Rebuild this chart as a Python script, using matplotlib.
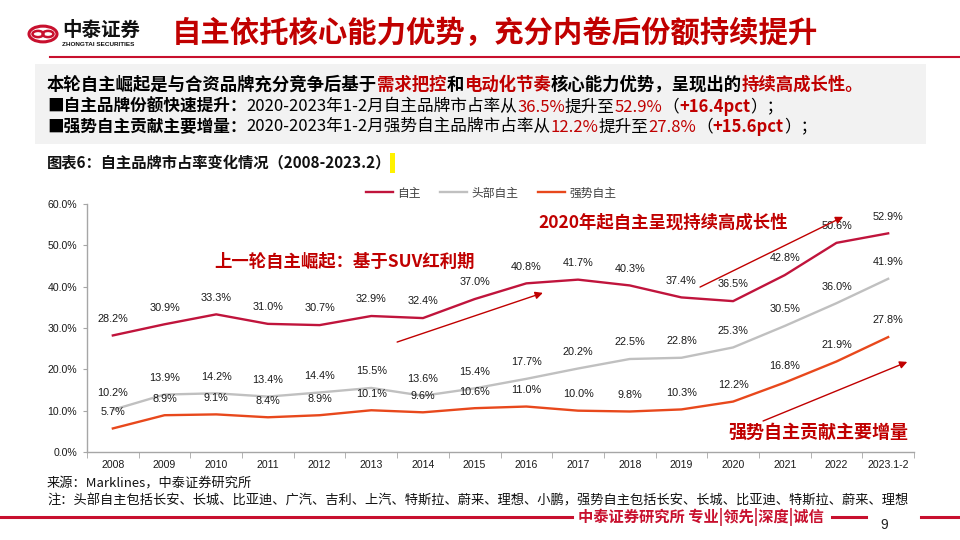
import matplotlib
matplotlib.use("Agg")
import matplotlib.pyplot as plt
from matplotlib.patches import Rectangle, Circle
from matplotlib.lines import Line2D

plt.rcParams['font.family'] = ['Noto Sans CJK SC', 'DejaVu Sans']

# ---------------- data ----------------
years = ['2008', '2009', '2010', '2011', '2012', '2013', '2014', '2015', '2016',
         '2017', '2018', '2019', '2020', '2021', '2022', '2023.1-2']
zizhu = [28.2, 30.9, 33.3, 31.0, 30.7, 32.9, 32.4, 37.0, 40.8, 41.7, 40.3, 37.4, 36.5, 42.8, 50.6, 52.9]
toubu = [10.2, 13.9, 14.2, 13.4, 14.4, 15.5, 13.6, 15.4, 17.7, 20.2, 22.5, 22.8, 25.3, 30.5, 36.0, 41.9]
qiangshi = [5.7, 8.9, 9.1, 8.4, 8.9, 10.1, 9.6, 10.6, 11.0, 10.0, 9.8, 10.3, 12.2, 16.8, 21.9, 27.8]
series_names = ['自主', '头部自主', '强势自主']
yticks = [0, 10, 20, 30, 40, 50, 60]

C_ZZ = '#C0143C'
C_TB = '#C0C0C0'
C_QS = '#E8481C'
RED = '#C00000'
CN = ['Noto Sans CJK SC', 'DejaVu Sans']
LAT = ['Liberation Sans', 'DejaVu Sans']

W, H = 960, 540
fig = plt.figure(figsize=(9.6, 5.4), dpi=100)
fig.patch.set_facecolor('white')

def px(x, y):
    return x / W, 1 - y / H

# ---------------- header ----------------
fig.patches.append(Circle(px(43, 34), 14 / W, transform=fig.transFigure,
                          facecolor='white', edgecolor='#C8102E', lw=2.2))
fig.patches.append(Circle(px(38, 34), 5.5 / W, transform=fig.transFigure,
                          facecolor='none', edgecolor='#C8102E', lw=1.8))
fig.patches.append(Circle(px(48, 34), 5.5 / W, transform=fig.transFigure,
                          facecolor='none', edgecolor='#C8102E', lw=1.8))
fig.text(*px(62, 30), '中泰证券', fontsize=14, fontweight='bold', family=CN,
         color='#111111', va='center', ha='left')
fig.text(*px(62, 44), 'ZHONGTAI SECURITIES', fontsize=4.6, fontweight='bold', family=LAT,
         color='#111111', va='center', ha='left')
fig.text(*px(172, 33), '自主依托核心能力优势，充分内卷后份额持续提升', fontsize=21.2,
         fontweight='bold', family=CN, color=RED, va='center', ha='left')
fig.add_artist(Line2D([50 / W, 1.0], [1 - 57 / H] * 2, transform=fig.transFigure,
                      color='#C8102E', lw=1.5))

# ---------------- grey text box ----------------
fig.patches.append(Rectangle(px(35, 144), (926 - 35) / W, (144 - 64) / H,
                             transform=fig.transFigure, facecolor='#F2F2F2',
                             edgecolor='none', zorder=0))

fig.canvas.draw()
renderer = fig.canvas.get_renderer()

def seg_line(x0, y0, segs, size=12):
    x = x0
    for txt, color, weight in segs:
        t = fig.text(*px(x, y0), txt, fontsize=size, fontweight=weight, family=CN,
                     color=color, va='center', ha='left')
        bb = t.get_window_extent(renderer)
        x += bb.width

K = '#000000'
seg_line(47, 85, [
    ('本轮自主崛起是与合资品牌充分竞争后基于', K, 'bold'),
    ('需求把控', RED, 'bold'), ('和', K, 'bold'), ('电动化节奏', RED, 'bold'),
    ('核心能力优势，呈现出的', K, 'bold'), ('持续高成长性。', RED, 'bold')], size=12.5)
seg_line(47, 107, [
    ('■自主品牌份额快速提升：', K, 'bold'),
    ('2020-2023年1-2月自主品牌市占率从', K, 'normal'), ('36.5%', RED, 'normal'),
    ('提升至', K, 'normal'), ('52.9%', RED, 'normal'), ('（', K, 'normal'),
    ('+16.4pct', RED, 'bold'), ('）；', K, 'normal')], size=12)
seg_line(47, 127, [
    ('■强势自主贡献主要增量：', K, 'bold'),
    ('2020-2023年1-2月强势自主品牌市占率从', K, 'normal'), ('12.2%', RED, 'normal'),
    ('提升至', K, 'normal'), ('27.8%', RED, 'normal'), ('（', K, 'normal'),
    ('+15.6pct', RED, 'bold'), ('）；', K, 'normal')], size=12)

fig.text(*px(47, 162), '图表6：自主品牌市占率变化情况（2008-2023.2）', fontsize=11,
         fontweight='bold', family=CN, color='#111111', va='center', ha='left')
fig.patches.append(Rectangle(px(390, 173), 5 / W, 20 / H, transform=fig.transFigure,
                             facecolor='#FFF200', edgecolor='none'))

# ---------------- chart ----------------
ax = fig.add_axes([87 / W, 1 - 452 / H, (914 - 87) / W, (452 - 204) / H])
x = list(range(len(years)))
l1, = ax.plot(x, zizhu, color=C_ZZ, lw=1.7, label=series_names[0])
l2, = ax.plot(x, toubu, color=C_TB, lw=1.7, label=series_names[1])
l3, = ax.plot(x, qiangshi, color=C_QS, lw=1.7, label=series_names[2])

for vals in (zizhu, toubu, qiangshi):
    for xi, v in zip(x, vals):
        ax.annotate(f'{v:.1f}%', (xi, v), xytext=(0, 12), textcoords='offset points',
                    ha='center', va='center', fontsize=7.8, family=LAT, color='#1A1A1A')

ax.set_xlim(-0.5, len(years) - 0.5)
ax.set_ylim(0, 60)
ax.set_yticks(yticks)
ax.set_yticklabels([f'{v:.1f}%' for v in yticks], family=LAT, fontsize=7.6, color='#1A1A1A')
ax.set_xticks(x)
ax.set_xticklabels(years, family=LAT, fontsize=7.6, color='#1A1A1A')
ax.set_xticks([i - 0.5 for i in range(len(years) + 1)], minor=True)
ax.tick_params(axis='x', which='major', length=0, pad=6)
ax.tick_params(axis='x', which='minor', length=4, color='#A6A6A6', direction='out')
ax.tick_params(axis='y', length=3, color='#A6A6A6', pad=4)
for s in ('top', 'right'):
    ax.spines[s].set_visible(False)
for s in ('left', 'bottom'):
    ax.spines[s].set_color('#A6A6A6')
    ax.spines[s].set_linewidth(1.0)

leg = ax.legend(handles=[l1, l2, l3], loc='center', bbox_to_anchor=(491 / W, 1 - 193 / H),
                bbox_transform=fig.transFigure, ncol=3, frameon=False,
                prop={'family': CN, 'size': 8.5}, handlelength=2.3, columnspacing=1.6,
                handletextpad=0.4)
for t in leg.get_texts():
    t.set_color('#404040')

# annotations
ax.text(4.49, 46.0, '上一轮自主崛起：基于SUV红利期', fontsize=12.5, fontweight='bold',
        family=CN, color=RED, ha='center', va='center')
ax.text(10.64, 55.4, '2020年起自主呈现持续高成长性', fontsize=12.5, fontweight='bold',
        family=CN, color=RED, ha='center', va='center')
ax.text(13.65, 4.8, '强势自主贡献主要增量', fontsize=13, fontweight='bold',
        family=CN, color=RED, ha='center', va='center')
arrow_kw = dict(arrowstyle='-|>', color=RED, lw=1.0, mutation_scale=11, shrinkA=0, shrinkB=0)
ax.annotate('', xy=(8.32, 38.5), xytext=(5.5, 26.6), arrowprops=arrow_kw, annotation_clip=False)
ax.annotate('', xy=(14.13, 56.9), xytext=(11.36, 39.9), arrowprops=arrow_kw, annotation_clip=False)
ax.annotate('', xy=(15.37, 21.8), xytext=(12.58, 7.5), arrowprops=arrow_kw, annotation_clip=False)

# ---------------- footer ----------------
fig.text(*px(47, 484), '来源：Marklines，中泰证券研究所', fontsize=9.5, family=CN,
         color='#111111', va='center', ha='left')
fig.text(*px(47, 501), '注：头部自主包括长安、长城、比亚迪、广汽、吉利、上汽、特斯拉、蔚来、理想、小鹏，强势自主包括长安、长城、比亚迪、特斯拉、蔚来、理想',
         fontsize=9.5, family=CN, color='#111111', va='center', ha='left')
fig.add_artist(Line2D([0, 572 / W], [1 - 517 / H] * 2, transform=fig.transFigure,
                      color='#C8102E', lw=2.2))
fig.add_artist(Line2D([832 / W, 866 / W], [1 - 517 / H] * 2, transform=fig.transFigure,
                      color='#C8102E', lw=2.2))
fig.add_artist(Line2D([921 / W, 1.0], [1 - 517 / H] * 2, transform=fig.transFigure,
                      color='#C8102E', lw=2.2))
fig.text(*px(578, 517), '中泰证券研究所 专业|领先|深度|诚信', fontsize=11, fontweight='bold',
         family=CN, color='#C8102E', va='center', ha='left')
fig.text(*px(884, 525), '9', fontsize=10, family=LAT, color='#222222', va='center', ha='center')

fig.savefig('out.png', dpi=100, facecolor='white')
